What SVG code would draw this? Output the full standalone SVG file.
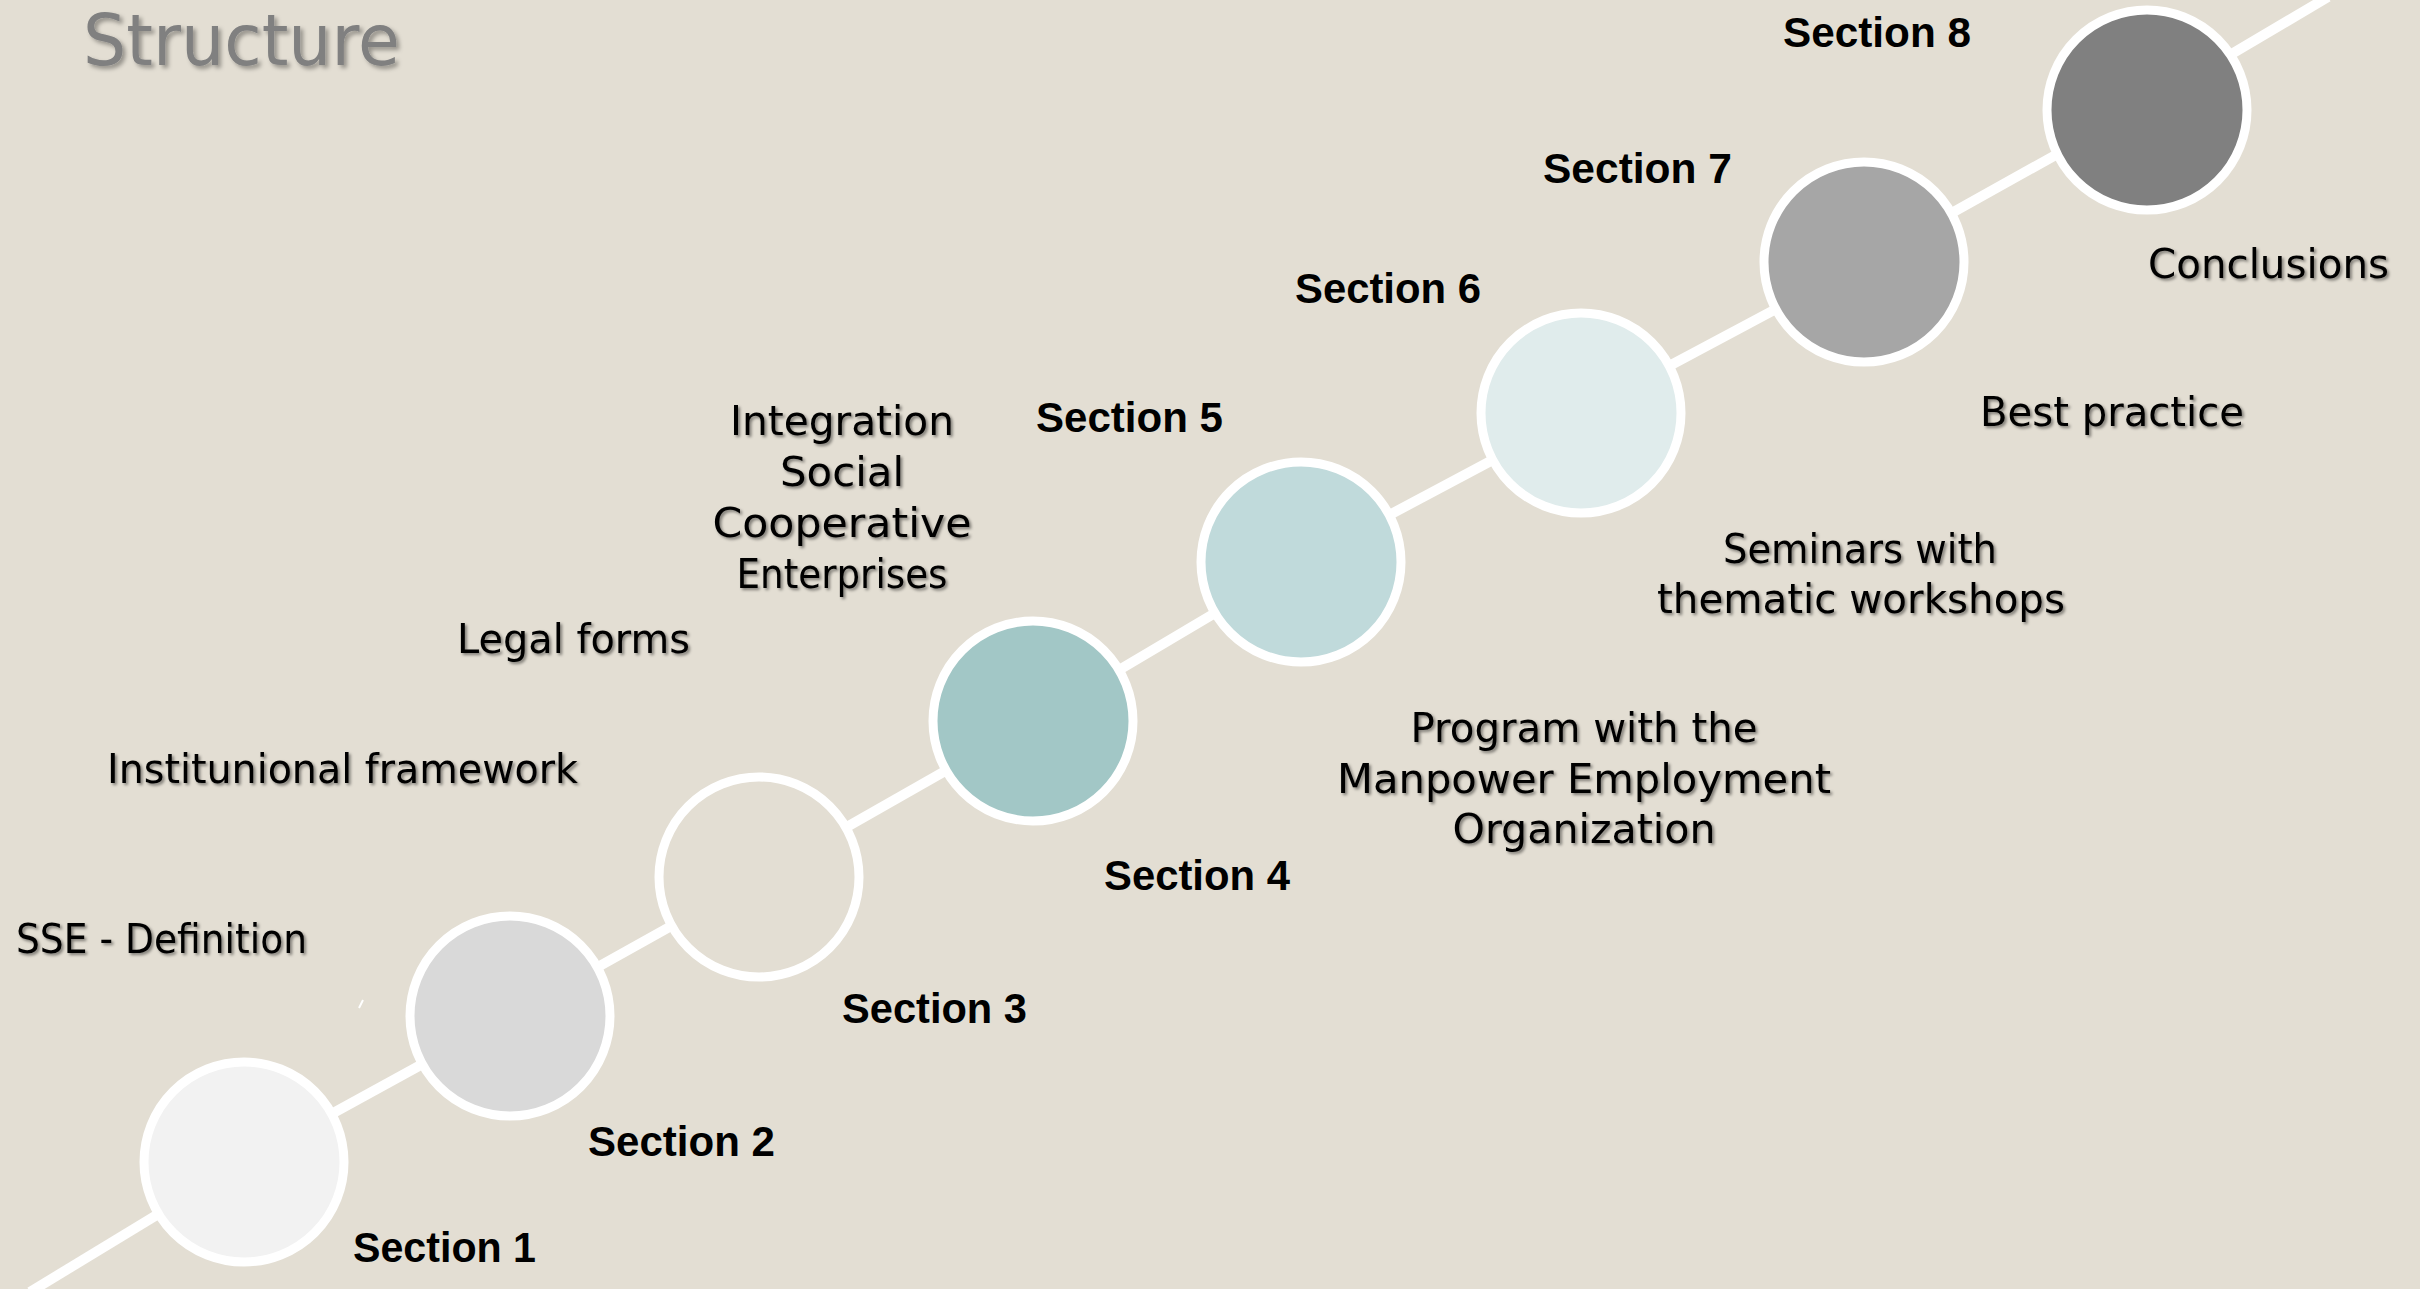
<svg xmlns="http://www.w3.org/2000/svg" width="2420" height="1289" viewBox="0 0 2420 1289">
  <defs>
    <filter id="shadow" x="-10%" y="-30%" width="120%" height="160%">
      <feDropShadow dx="2" dy="2" stdDeviation="1.5" flood-color="#000" flood-opacity="0.45"/>
    </filter>
    <filter id="tshadow" x="-10%" y="-30%" width="120%" height="160%">
      <feDropShadow dx="3" dy="3" stdDeviation="2" flood-color="#000" flood-opacity="0.35"/>
    </filter>
  </defs>
  <style>
    .node { stroke: #FFFFFF; stroke-width: 9; }
    .conn { stroke: #FFFFFF; stroke-width: 10; fill: none; }
    .sec { font-family: "Liberation Sans", Arial, sans-serif; font-weight: bold; font-size: 42px; fill: #000; }
    .lbl { font-family: "DejaVu Sans", "Liberation Sans", sans-serif; font-size: 40px; fill: #000; filter: url(#shadow); }
    .title { font-family: "DejaVu Sans", "Liberation Sans", sans-serif; font-size: 72px; fill: #808080; filter: url(#tshadow); }
  </style>
  <rect x="0" y="0" width="2420" height="1289" fill="#E3DED3"/>

  <text class="title" x="83" y="65" textLength="317" lengthAdjust="spacingAndGlyphs">Structure</text>

  <g id="connectors">
    <line class="conn" x1="30" y1="1292" x2="244" y2="1162"/>
    <line class="conn" x1="244" y1="1162" x2="510" y2="1016"/>
    <line class="conn" x1="510" y1="1016" x2="759" y2="877"/>
    <line class="conn" x1="759" y1="877" x2="1033" y2="721"/>
    <line class="conn" x1="1033" y1="721" x2="1301" y2="562"/>
    <line class="conn" x1="1301" y1="562" x2="1581" y2="413"/>
    <line class="conn" x1="1581" y1="413" x2="1864" y2="262"/>
    <line class="conn" x1="1864" y1="262" x2="2147" y2="104"/>
    <line class="conn" x1="2147" y1="104" x2="2328" y2="-3"/>
  </g>

  <line x1="363" y1="1000" x2="359" y2="1008" stroke="#FFFFFF" stroke-width="2"/>

  <g id="node1">
    <circle class="node" cx="244" cy="1162" r="100" fill="#F2F2F2"/>
    <text class="sec" x="353" y="1262" textLength="183" lengthAdjust="spacingAndGlyphs">Section 1</text>
    <text class="lbl" x="16" y="953" textLength="291" lengthAdjust="spacingAndGlyphs">SSE - Definition</text>
  </g>
  <g id="node2">
    <circle class="node" cx="510" cy="1016" r="100" fill="#D9D9D9"/>
    <text class="sec" x="588" y="1156" textLength="187" lengthAdjust="spacingAndGlyphs">Section 2</text>
    <text class="lbl" x="107" y="783" textLength="471" lengthAdjust="spacingAndGlyphs">Institunional framework</text>
  </g>
  <g id="node3">
    <circle class="node" cx="759" cy="877" r="100" fill="#E3DED3"/>
    <text class="sec" x="842" y="1023" textLength="185" lengthAdjust="spacingAndGlyphs">Section 3</text>
    <text class="lbl" x="457" y="653" textLength="233" lengthAdjust="spacingAndGlyphs">Legal forms</text>
  </g>
  <g id="node4">
    <circle class="node" cx="1033" cy="721" r="100" fill="#A2C7C6"/>
    <text class="sec" x="1104" y="890" textLength="186" lengthAdjust="spacingAndGlyphs">Section 4</text>
    <g class="lbl" text-anchor="middle">
      <text x="842" y="435" textLength="224" lengthAdjust="spacingAndGlyphs">Integration</text>
      <text x="842" y="486" textLength="124" lengthAdjust="spacingAndGlyphs">Social</text>
      <text x="842" y="537" textLength="259" lengthAdjust="spacingAndGlyphs">Cooperative</text>
      <text x="842" y="588" textLength="211" lengthAdjust="spacingAndGlyphs">Enterprises</text>
    </g>
  </g>
  <g id="node5">
    <circle class="node" cx="1301" cy="562" r="100" fill="#C0DADB"/>
    <text class="sec" x="1036" y="432" textLength="187" lengthAdjust="spacingAndGlyphs">Section 5</text>
    <g class="lbl" text-anchor="middle">
      <text x="1584" y="742" textLength="347" lengthAdjust="spacingAndGlyphs">Program with the</text>
      <text x="1584" y="793" textLength="494" lengthAdjust="spacingAndGlyphs">Manpower Employment</text>
      <text x="1584" y="843" textLength="263" lengthAdjust="spacingAndGlyphs">Organization</text>
    </g>
  </g>
  <g id="node6">
    <circle class="node" cx="1581" cy="413" r="100" fill="#E0ECEC"/>
    <text class="sec" x="1295" y="303" textLength="186" lengthAdjust="spacingAndGlyphs">Section 6</text>
    <g class="lbl" text-anchor="middle">
      <text x="1860" y="563" textLength="274" lengthAdjust="spacingAndGlyphs">Seminars with</text>
      <text x="1861" y="613" textLength="408" lengthAdjust="spacingAndGlyphs">thematic workshops</text>
    </g>
  </g>
  <g id="node7">
    <circle class="node" cx="1864" cy="262" r="100" fill="#A6A6A6"/>
    <text class="sec" x="1543" y="183" textLength="189" lengthAdjust="spacingAndGlyphs">Section 7</text>
    <text class="lbl" x="1980" y="426" textLength="264" lengthAdjust="spacingAndGlyphs">Best practice</text>
  </g>
  <g id="node8">
    <circle class="node" cx="2147" cy="110" r="100" fill="#808080"/>
    <text class="sec" x="1783" y="47" textLength="188" lengthAdjust="spacingAndGlyphs">Section 8</text>
    <text class="lbl" x="2148" y="278" textLength="241" lengthAdjust="spacingAndGlyphs">Conclusions</text>
  </g>
</svg>
